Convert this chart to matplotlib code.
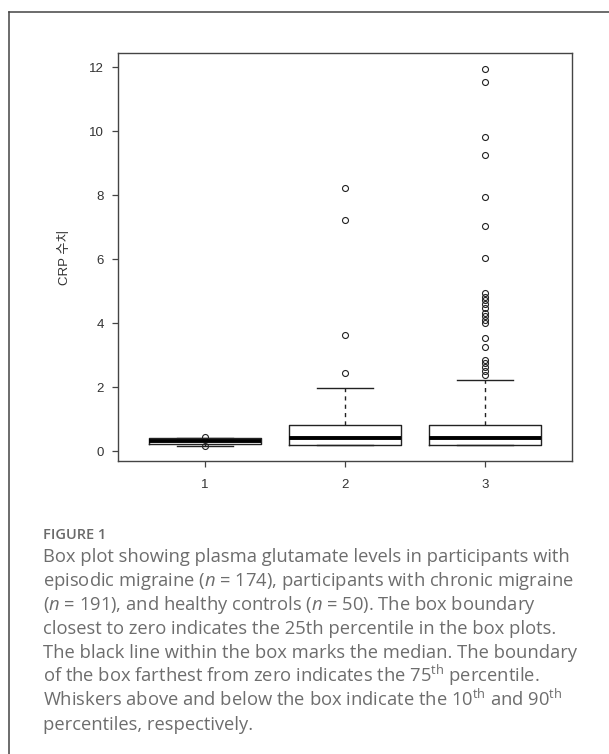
import matplotlib
matplotlib.use("Agg")
import matplotlib.pyplot as plt
from matplotlib.lines import Line2D

plt.rcParams['mathtext.fontset'] = 'custom'
plt.rcParams['mathtext.rm'] = 'Open Sans'
plt.rcParams['mathtext.it'] = 'Open Sans:italic'

# group labels and box statistics
groups = ["1", "2", "3"]
q1 = [0.22, 0.18, 0.18]
medians = [0.32, 0.42, 0.42]
q3 = [0.42, 0.81, 0.81]
whisk_lo = [0.17, 0.18, 0.18]
whisk_hi = [0.42, 1.96, 2.22]
fliers_1 = [0.45, 0.16]
fliers_2 = [8.23, 7.23, 3.63, 2.43]
fliers_3 = [11.93, 11.54, 9.82, 9.24, 7.94, 7.04, 6.04,
            4.95, 4.82, 4.72, 4.59, 4.46, 4.30, 4.22, 4.09, 3.99,
            3.52, 3.24, 2.84, 2.74, 2.62, 2.51, 2.38]
y_ticks = [0, 2, 4, 6, 8, 10, 12]

caption_title = "FIGURE 1"
caption_lines = [
    "Box plot showing plasma glutamate levels in participants with",
    "episodic migraine ($n$ = 174), participants with chronic migraine",
    "($n$ = 191), and healthy controls ($n$ = 50). The box boundary",
    "closest to zero indicates the 25th percentile in the box plots.",
    "The black line within the box marks the median. The boundary",
    "of the box farthest from zero indicates the 75$^{\\mathrm{th}}$ percentile.",
    "Whiskers above and below the box indicate the 10$^{\\mathrm{th}}$ and 90$^{\\mathrm{th}}$",
    "percentiles, respectively.",
]

W, H = 609, 754
fig = plt.figure(figsize=(W / 100, H / 100), dpi=100)

# frame of the figure panel (left and top edges visible)
fig.add_artist(Line2D([9 / W, 9 / W], [0, 1 - 12 / H], color="#444444", lw=1.1))
fig.add_artist(Line2D([9 / W, 1], [1 - 12 / H, 1 - 12 / H], color="#444444", lw=1.1))

ax = fig.add_axes([118 / W, 1 - 461 / H, (572 - 118) / W, (461 - 53) / H])

stats = []
all_fliers = [fliers_1, fliers_2, fliers_3]
for i, g in enumerate(groups):
    stats.append(dict(label=g, q1=q1[i], med=medians[i], q3=q3[i],
                      whislo=whisk_lo[i], whishi=whisk_hi[i],
                      fliers=all_fliers[i]))

ax.bxp(stats, positions=[1, 2, 3], widths=0.8, showfliers=True,
       boxprops=dict(color="#222222", lw=1.0),
       medianprops=dict(color="black", lw=2.8, solid_capstyle="butt"),
       whiskerprops=dict(color="#222222", lw=1.0, linestyle=(0, (3, 3))),
       capprops=dict(color="#222222", lw=1.0),
       capwidths=0.4,
       flierprops=dict(marker="o", markerfacecolor="none",
                       markeredgecolor="#222222", markersize=4.3, mew=0.8))

ax.set_xlim(0.38, 3.62)
ax.set_ylim(-0.3125, 12.44)
ax.set_yticks(y_ticks)
ax.set_xticks([1, 2, 3])
ax.set_xticklabels(groups)

for s in ax.spines.values():
    s.set_color("#444444")
    s.set_linewidth(1.0)
ax.tick_params(axis="both", direction="out", length=4.3, width=0.9,
               color="#444444", labelcolor="#333333", labelsize=9.5)
ax.tick_params(axis="x", pad=9.0)
ax.tick_params(axis="y", pad=6.0)
for lab in ax.get_xticklabels() + ax.get_yticklabels():
    lab.set_family("Liberation Sans")

fig.text(65 / W, 1 - 257 / H, "CRP 수치", rotation=90, ha="center", va="center",
         fontsize=9.5, color="#333333",
         family=["Liberation Sans", "Noto Sans CJK KR"])

# caption below the chart
fig.text(43 / W, 1 - 539 / H, caption_title, ha="left", va="baseline",
         fontsize=10.5, color="#6a6a6a", family="Open Sans", fontweight="semibold")
for k, line in enumerate(caption_lines):
    fig.text(43 / W, 1 - (562 + 24 * k) / H, line, ha="left", va="baseline",
             fontsize=13.2, color="#6d6d6d", family="Open Sans")

fig.savefig("out.png", dpi=100)
